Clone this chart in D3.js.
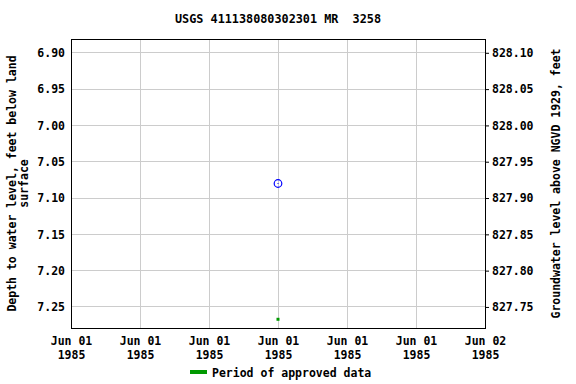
<!DOCTYPE html>
<html><head><meta charset="utf-8">
<script src="https://cdn.jsdelivr.net/npm/d3@7"></script>
<style>body{margin:0;background:#fff}svg{display:block}text{font-family:"DejaVu Sans Mono",monospace;font-weight:bold;fill:#000}</style>
</head><body><svg id="c" width="576" height="384"></svg>
<script>
const title = "USGS 411138080302301 MR  3258";
const depthTicks = [6.90, 6.95, 7.00, 7.05, 7.10, 7.15, 7.20, 7.25];
const elevTicks = [828.10, 828.05, 828.00, 827.95, 827.90, 827.85, 827.80, 827.75];
const datum = 835.00;
const xTickLabels = ["Jun 01\n1985","Jun 01\n1985","Jun 01\n1985","Jun 01\n1985","Jun 01\n1985","Jun 01\n1985","Jun 02\n1985"];
const obsDates = [new Date(1985,5,1,12,0)];
const obsDepth = [7.08];
const approvedDates = [new Date(1985,5,1,12,0)];
const approvedDepth = [7.267];

const svg = d3.select("#c");
const L=71,R=485,T=39,B=328;
const x = d3.scaleTime().domain([new Date(1985,5,1,0,0), new Date(1985,5,2,0,0)]).range([L,R]);
const y = d3.scaleLinear().domain([6.881, 7.279]).range([T,B]);
const y2 = d3.scaleLinear().domain([datum-6.881, datum-7.279]).range([T,B]);
const xTicks = d3.range(7).map(i=>new Date(1985,5,1,i*4,0));

// grid
svg.append("g").selectAll("line").data(xTicks).join("line")
  .attr("x1",d=>x(d)).attr("x2",d=>x(d)).attr("y1",T).attr("y2",B)
  .attr("stroke","#cccccc").attr("stroke-width",1).attr("shape-rendering","crispEdges");
svg.append("g").selectAll("line").data(depthTicks).join("line")
  .attr("x1",L).attr("x2",R).attr("y1",d=>y(d)).attr("y2",d=>y(d))
  .attr("stroke","#cccccc").attr("stroke-width",1).attr("shape-rendering","crispEdges");

// axes
const fmt = d3.format(".2f");
const la = svg.append("g").attr("transform",`translate(${L},0)`)
  .call(d3.axisLeft(y).tickValues(depthTicks).tickFormat(fmt).tickSize(0).tickPadding(6));
const ra = svg.append("g").attr("transform",`translate(${R},0)`)
  .call(d3.axisRight(y2).tickValues(elevTicks).tickFormat(fmt).tickSize(4).tickPadding(3));
const ba = svg.append("g").attr("transform",`translate(0,${B})`)
  .call(d3.axisBottom(x).tickValues(xTicks).tickFormat((d,i)=>"").tickSize(0));
[la,ra,ba].forEach(g=>{g.select(".domain").remove();g.selectAll("text").style("font-size","11.5px").style("font-family",'"DejaVu Sans Mono",monospace').style("font-weight","bold").attr("fill","#000");g.selectAll("line").attr("stroke","#000");});
ba.selectAll(".tick").each(function(d,i){
  const t=d3.select(this).select("text").attr("y",null).attr("dy",null);
  const parts=xTickLabels[i].split("\n");
  parts.forEach((p,k)=>t.append("tspan").attr("x",0).attr("y",17+k*14).text(p));
});
svg.append("rect").attr("x",L).attr("y",T).attr("width",R-L).attr("height",B-T)
  .attr("fill","none").attr("stroke","#000").attr("stroke-width",1).attr("shape-rendering","crispEdges");

// title
svg.append("text").attr("x",(L+R)/2).attr("y",23).attr("text-anchor","middle")
  .attr("xml:space","preserve").style("white-space","pre")
  .style("font-size","11.8px").text(title);

// axis labels
const yl = svg.append("text").attr("transform",`translate(16,${(T+B)/2}) rotate(-90)`)
  .attr("text-anchor","middle").style("font-size","11.5px");
yl.append("tspan").attr("x",0).attr("dy",0).text("Depth to water level, feet below land");
yl.append("tspan").attr("x",0).attr("dy",12).text("surface");
svg.append("text").attr("transform",`translate(560,${(T+B)/2}) rotate(-90)`)
  .attr("text-anchor","middle").style("font-size","11.5px")
  .text("Groundwater level above NGVD 1929, feet");

// points
svg.append("g").selectAll("circle").data(obsDates).join("circle")
  .attr("cx",d=>x(d)).attr("cy",(d,i)=>y(obsDepth[i])).attr("r",3.8)
  .attr("fill","none").attr("stroke","#0000ff").attr("stroke-width",1.2);
svg.append("g").selectAll("rect").data(obsDates).join("rect")
  .attr("x",d=>x(d)-0.5).attr("y",(d,i)=>y(obsDepth[i])-0.5).attr("width",1).attr("height",1).attr("fill","#0000ff");
svg.append("g").selectAll("rect").data(approvedDates).join("rect")
  .attr("x",d=>x(d)-1.5).attr("y",(d,i)=>y(approvedDepth[i])-1.5).attr("width",3).attr("height",3).attr("fill","#009900");

// legend
svg.append("line").attr("x1",190).attr("x2",207).attr("y1",372).attr("y2",372)
  .attr("stroke","#009900").attr("stroke-width",4);
svg.append("text").attr("x",212).attr("y",376.5).style("font-size","11.5px").text("Period of approved data");
</script></body></html>
